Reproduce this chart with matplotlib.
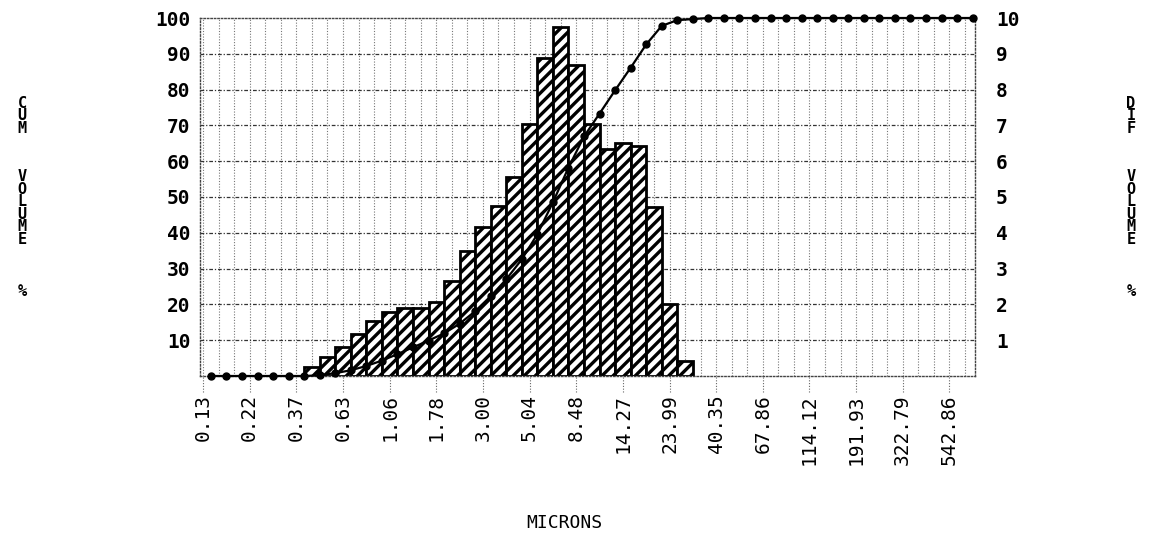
import numpy as np
import matplotlib
matplotlib.use('Agg')
import matplotlib.pyplot as plt
import matplotlib.transforms as mtransforms

# particle size at every third channel edge (microns)
size_labels = ['0.13', '0.22', '0.37', '0.63', '1.06', '1.78', '3.00', '5.04', '8.48',
               '14.27', '23.99', '40.35', '67.86', '114.12', '191.93', '322.79', '542.86']
n_channels = 50

# cumulative volume % at each channel centre
cum_volume = [0, 0, 0, 0, 0, 0, 0, 0.2, 0.8, 1.6,
              2.8, 4.3, 6.1, 8.0, 9.9, 11.9, 14.6, 18.1, 22.3, 27.0,
              32.6, 39.6, 48.5, 58.2, 66.9, 73.3, 79.8, 86.1, 92.6, 97.8,
              99.4, 99.7, 100, 100, 100, 100, 100, 100, 100, 100,
              100, 100, 100, 100, 100, 100, 100, 100, 100, 100]

# differential volume %, first bar starts at channel centre 6
first_bar = 6
dif_volume = [0.24, 0.52, 0.82, 1.17, 1.55, 1.78, 1.89, 1.89, 2.08, 2.65,
              3.49, 4.17, 4.75, 5.57, 7.04, 8.87, 9.76, 8.69, 7.04, 6.33,
              6.52, 6.42, 4.71, 2.01, 0.42]

plt.rcParams['hatch.linewidth'] = 2.4
mono = 'DejaVu Sans Mono'

fig = plt.figure(figsize=(11.5, 5.41), dpi=100)
ax = fig.add_axes([200 / 1150, 1 - 376 / 541, 775 / 1150, 358 / 541])
ax2 = ax.twinx()
ax.set_zorder(ax2.get_zorder() + 1)
ax.patch.set_visible(False)

ax.set_xlim(-0.2, 49.65)
ax.set_ylim(0, 100)
ax2.set_ylim(0, 10)

# grid (behind the bars)
ax2.vlines(np.arange(0, n_channels), 0, 10, colors='#777777', linestyles=(0, (1, 1.5)),
           linewidth=0.8, zorder=0)
ax2.hlines(np.arange(1, 10), -0.2, 49.65, colors='#333333', linestyles=(0, (3, 1.5, 1, 1.5)),
           linewidth=0.9, zorder=0)

# histogram
centres = np.arange(n_channels) + 0.5
ax2.bar(centres[first_bar:first_bar + len(dif_volume)], dif_volume, width=1.0, align='edge',
        facecolor='white', edgecolor='black', linewidth=2.0, hatch='///', zorder=2)

# cumulative curve
ax.plot(centres, cum_volume, color='black', linewidth=1.6, marker='o', markersize=5,
        zorder=3, clip_on=False)

# ticks
major = np.arange(0, n_channels, 3)
ax.set_xticks(major)
ax.set_xticklabels(size_labels, rotation=90, family=mono, fontsize=14, va='top')
ax.tick_params(axis='x', length=0, pad=13)
trans = mtransforms.blended_transform_factory(ax.transData, ax.transAxes)
ax.vlines(major, -0.045, 0, transform=trans, colors='#666666', linestyles=(0, (1, 1.5)),
          linewidth=0.8, clip_on=False)

ax.set_yticks(np.arange(10, 101, 10))
ax.set_yticklabels([str(v) for v in range(10, 101, 10)], family=mono, fontsize=14,
                   fontweight='bold')
ax.tick_params(axis='y', length=0, pad=7)
ax2.set_yticks(np.arange(1, 11))
ax2.set_yticklabels([str(v) for v in range(1, 11)], family=mono, fontsize=14,
                    fontweight='bold')
ax2.tick_params(axis='y', length=0, pad=15)

for s in ax.spines.values():
    s.set_linestyle((0, (1, 1.5)))
    s.set_color('#444444')
    s.set_linewidth(1.0)
for s in ax2.spines.values():
    s.set_visible(False)

# stacked axis titles
kw = dict(family=mono, fontsize=11, fontweight='bold', ha='center', va='center',
          linespacing=0.8)
for x0, word in [(22 / 1150, 'CUM'), (1131 / 1150, 'DIF')]:
    fig.text(x0, 1 - 116 / 541, '\n'.join(word), **kw)
    fig.text(x0, 1 - 208 / 541, '\n'.join('VOLUME'), **kw)
    fig.text(x0, 1 - 292 / 541, '%', **kw)

fig.text(564 / 1150, 1 - 523 / 541, 'MICRONS', family=mono, fontsize=13,
         ha='center', va='center')

fig.savefig('out.png', dpi=100)
